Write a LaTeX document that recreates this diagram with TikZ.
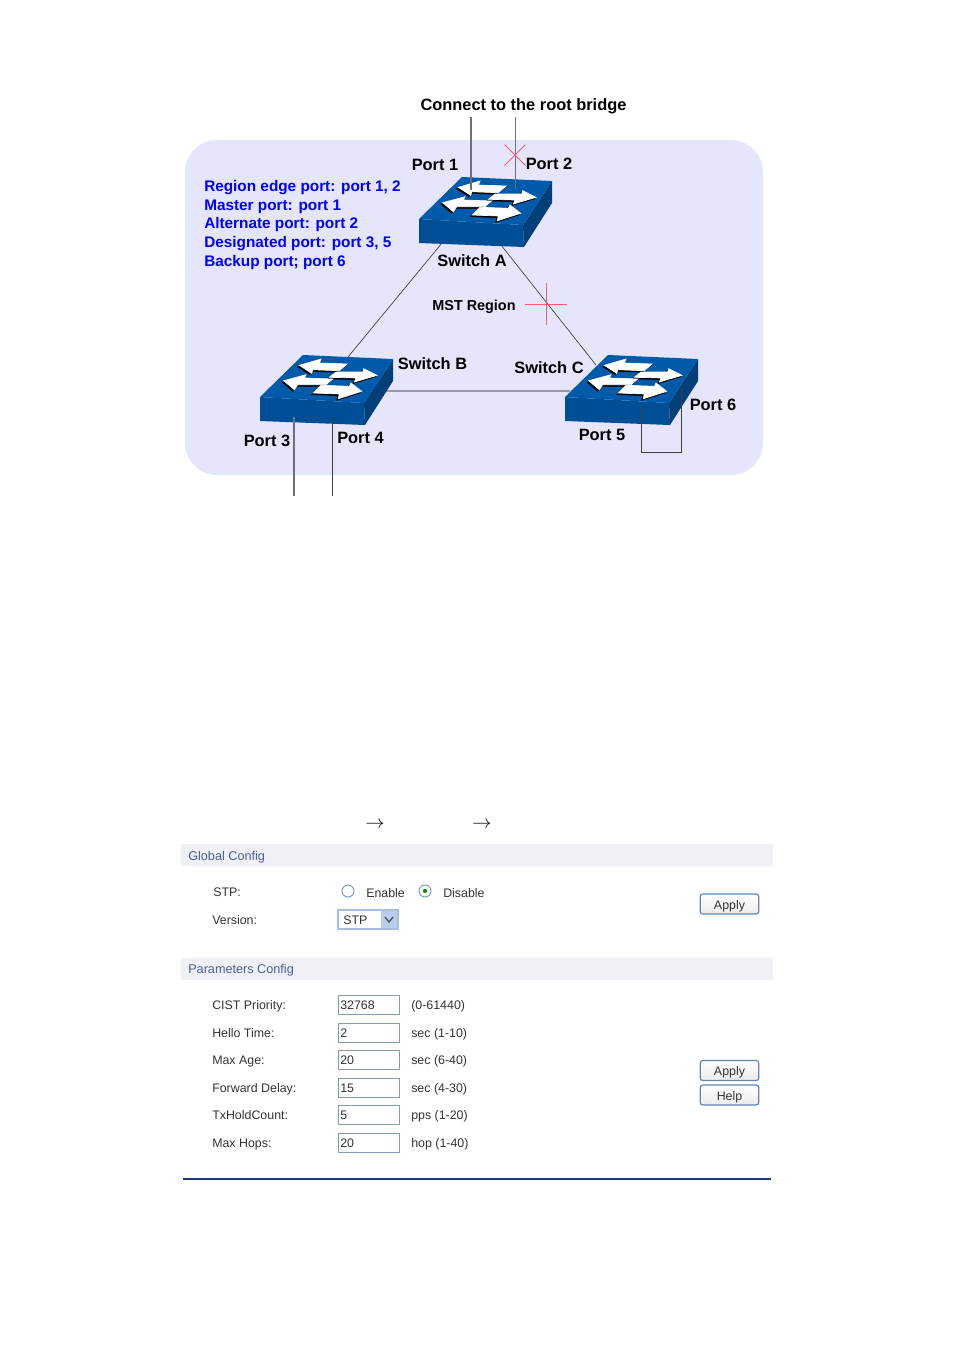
\documentclass[tikz,border=0pt]{standalone}
\usepackage{fontspec}
\setmainfont{Liberation Sans}
\usetikzlibrary{positioning}

\definecolor{regionfill}{HTML}{E5E5FB}
\definecolor{switchtop}{HTML}{005AAA}
\definecolor{switchfront}{HTML}{004F96}
\definecolor{switchside}{HTML}{003F78}
\definecolor{wirered}{HTML}{F0606E}
\definecolor{wiregrey}{HTML}{6E6E7C}
\definecolor{barfill}{HTML}{F0F1F6}
\definecolor{bartext}{HTML}{4A5F9A}
\definecolor{uitext}{HTML}{333333}
\definecolor{btnedge}{HTML}{5F88B0}
\definecolor{selectedge}{HTML}{A8C0DC}
\definecolor{selectbtn}{HTML}{B9CDEC}
\definecolor{rulenavy}{HTML}{1A3A78}

\tikzset{
  diagramlabel/.style={inner sep=0pt, font=\fontsize{12.3}{14}\selectfont\bfseries},
  barlabel/.style={inner sep=0pt, anchor=base west, text=bartext, font=\fontsize{9.5}{11}\selectfont},
  uilabel/.style={inner sep=0pt, anchor=base west, text=uitext, font=\fontsize{9.3}{11}\selectfont},
  bar/.style={fill=barfill, draw=none, minimum width=444pt, minimum height=16.5pt, inner sep=0pt, anchor=west},
  inputbox/.style={draw=selectedge!80!black, line width=.6pt, fill=white, minimum width=46pt, minimum height=14pt, inner sep=0pt, anchor=west},
  btn/.style={draw=btnedge, line width=.9pt, rounded corners=2pt, top color=white, bottom color=black!8, minimum width=44pt, minimum height=15pt, inner sep=0pt, text height=9.5pt, text depth=2pt, text=uitext, font=\fontsize{9.3}{11}\selectfont},
  radio/.style={circle, draw=btnedge!80, line width=.8pt, fill=white, minimum size=9pt, inner sep=0pt},
  wire/.style={draw=wiregrey, line width=.8pt},
  thinwire/.style={draw=black!75, line width=.5pt},
  blocked/.style={draw=wirered, line width=.7pt},
  pics/switchbox/.style={code={
    \fill[switchfront] (0,0) -- (104,6) -- (105,28) -- (0,24) -- cycle;
    \fill[switchside] (104,6) -- (133,-38) -- (133,-16) -- (105,28) -- cycle;
    \fill[switchtop] (0,0) -- (43,-42) -- (133,-38) -- (104,6) -- cycle;
    \foreach \dx/\col in {-1.5/black, 0/white} {
      \begin{scope}[shift={(\dx,{abs(\dx)})}]
      \filldraw[\col, line width=.5pt] (39.3,-31.7) -- (61,-38) -- (59.3,-34) -- (87,-33) -- (79.3,-26.3) -- (52.7,-27.3) -- (51.7,-23.7) -- cycle;
      \filldraw[\col, line width=.5pt] (117,-21.7) -- (103.7,-28.3) -- (102.7,-25) -- (76,-25) -- (69.3,-19.7) -- (96,-19) -- (94.3,-15) -- cycle;
      \filldraw[\col, line width=.5pt] (23.7,-16.3) -- (46,-22.3) -- (44.3,-19) -- (72.7,-18) -- (66,-12.3) -- (37.7,-12.3) -- (34.3,-7.3) -- cycle;
      \filldraw[\col, line width=.5pt] (101.7,-5.7) -- (91,-14) -- (89.3,-10.7) -- (61,-11.7) -- (53.3,-4) -- (79.3,-3) -- (78.3,1.7) -- cycle;
      \end{scope}
    }
  }}
}

\begin{document}
\begin{tikzpicture}[x=.75pt, y=-.75pt]
\useasboundingbox (0,0) rectangle (954,1350);

\fill[regionfill, rounded corners=24pt] (185,140) rectangle (763,475);

\coordinate (ab1) at (442,243);
\coordinate (ab2) at (348,357);
\coordinate (ac1) at (501,245);
\coordinate (ac2) at (596,365);
\coordinate (bc1) at (386,391);
\coordinate (bc2) at (570,391);
\draw[thinwire] (ab1) -- (ab2);
\draw[thinwire] (ac1) -- (ac2);
\draw[wire, draw=wiregrey!70] (bc1) -- (bc2);

\pic at (419,219) {switchbox};
\pic at (260,397) {switchbox};
\pic at (565,397) {switchbox};

\coordinate (p1a) at (471,117);
\coordinate (p1b) at (471,190);
\coordinate (p2a) at (515,117);
\coordinate (p2b) at (515,189);
\coordinate (p3a) at (294,417);
\coordinate (p3b) at (294,496);
\coordinate (p4a) at (332,417);
\coordinate (p4b) at (332,496);
\coordinate (p5) at (641,407);
\coordinate (p6) at (681,387);
\draw[wire] (p1a) -- (p1b);
\draw[wire, line width=.6pt] (p2a) -- (p2b);
\draw[wire] (p3a) -- (p3b);
\draw[thinwire] (p4a) -- (p4b);
\draw[thinwire] (p5) -- (641,452) -- (681,452) -- (p6);

\draw[blocked] (504.5,144.5) -- (525.5,165.5);
\draw[blocked] (525.5,144.5) -- (504.5,165.5);
\draw[blocked] (525,304) -- (567,304);
\draw[blocked] (546,283) -- (546,325);

\node[diagramlabel] (root) at (523.5,106) {Connect to the root bridge};
\node[diagramlabel] (port1) at (435,165) {Port 1};
\node[diagramlabel] (port2) at (549,164) {Port 2};
\node[diagramlabel] (swa) at (472,261) {Switch A};
\node[diagramlabel, font=\fontsize{10.8}{13}\selectfont\bfseries] (region) at (474,307) {MST Region};
\node[diagramlabel] (swb) at (432.5,364) {Switch B};
\node[diagramlabel] (swc) at (549,368) {Switch C};
\node[diagramlabel] (port3) at (267,441) {Port 3};
\node[diagramlabel] (port4) at (360.5,438) {Port 4};
\node[diagramlabel] (port5) at (602,435) {Port 5};
\node[diagramlabel] (port6) at (713,404.5) {Port 6};
\node[diagramlabel, font=\fontsize{11.5}{14}\selectfont\bfseries, text=blue, anchor=north west, align=left] (roles) at (204,180) {Region edge port: port 1, 2\\Master port: port 1\\Alternate port: port 2\\Designated port: port 3, 5\\Backup port; port 6};

\node[inner sep=0pt, font=\fontsize{14.4}{16}\selectfont] (arrow1) at (375,825) {$\rightarrow$};
\node[inner sep=0pt, font=\fontsize{14.4}{16}\selectfont] (arrow2) at (482,825) {$\rightarrow$};

\node[bar] (globalbar) at (181,855) {};
\node[barlabel] (globaltitle) at (188,860) {Global Config};
\node[uilabel] (stplabel) at (213,896) {STP:};
\node[uilabel] (versionlabel) at (212,924) {Version:};
\node[radio] (enable) at (348,891) {};
\node[uilabel] (enabletext) at (366,897) {Enable};
\node[radio] (disable) at (425,891) {};
\fill[green!60!black] (disable) circle (1.6pt);
\node[uilabel] (disabletext) at (443,897) {Disable};
\draw[selectedge, line width=.9pt, fill=white] (338,910) rectangle (398,929);
\fill[selectbtn] (381,911) rectangle (397,928);
\draw[black!60!selectbtn, line width=1pt] (385,917) -- (389,922) -- (393,917);
\node[uilabel] (stpvalue) at (343,924) {STP};
\node[btn] (applyone) at (729.5,904) {Apply};

\node[bar] (parambar) at (181,969) {};
\node[barlabel] (paramtitle) at (188,973.5) {Parameters Config};
\foreach \rowy/\rowname/\rowval/\rowunit in {
  1005/CIST Priority:/32768/(0-61440),
  1033/Hello Time:/2/sec (1-10),
  1060/Max Age:/20/sec (6-40),
  1088/Forward Delay:/15/sec (4-30),
  1115/TxHoldCount:/5/pps (1-20),
  1143/Max Hops:/20/hop (1-40)} {
  \node[uilabel] (name\rowy) at (212,\rowy+4) {\rowname};
  \node[inputbox] (box\rowy) at (338,\rowy) {};
  \node[uilabel] (val\rowy) at (340,\rowy+4) {\rowval};
  \node[uilabel] (unit\rowy) at (411,\rowy+4) {\rowunit};
}
\node[btn] (applytwo) at (729.5,1070.5) {Apply};
\node[btn] (helpbtn) at (729.5,1095) {Help};

\coordinate (rulea) at (183,1179);
\coordinate (ruleb) at (771,1179);
\draw[rulenavy, line width=1.2pt] (rulea) -- (ruleb);
\end{tikzpicture}
\end{document}
